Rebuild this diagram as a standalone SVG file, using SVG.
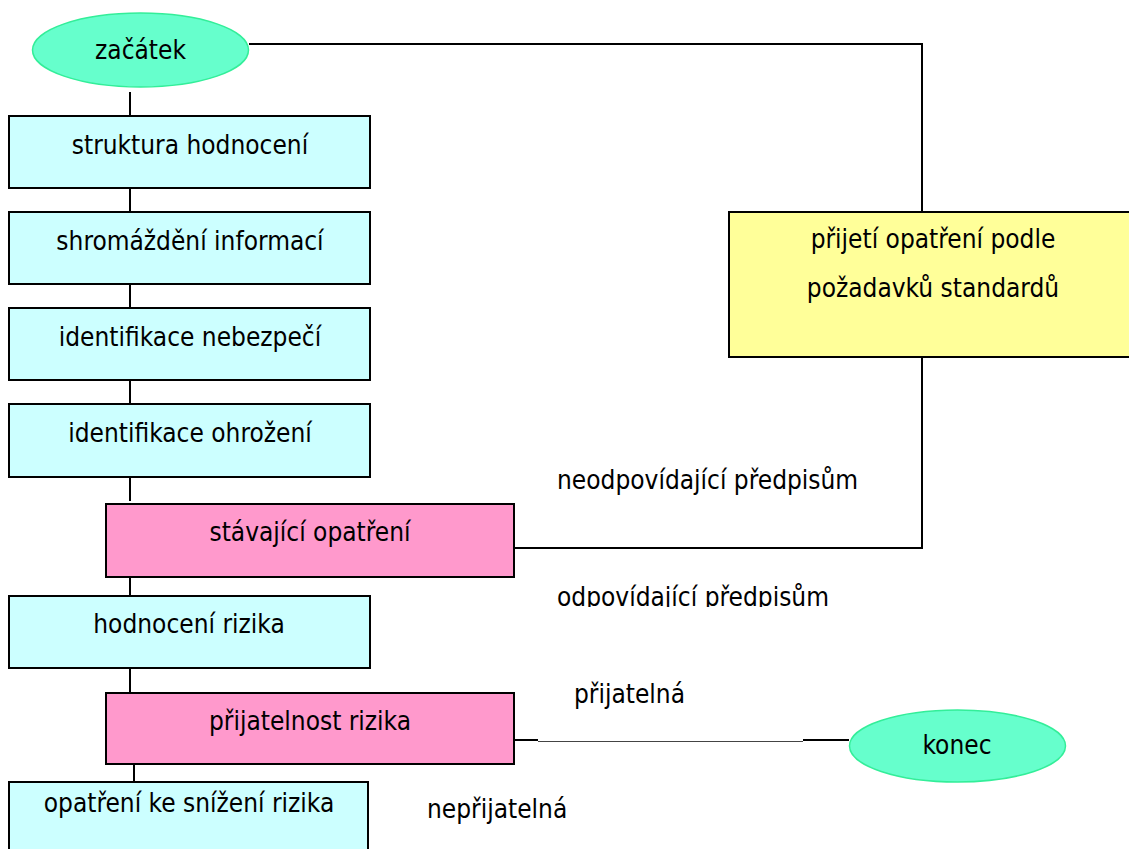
<svg xmlns="http://www.w3.org/2000/svg" width="1129" height="849" viewBox="0 0 1129 849">
<style>
text{font-family:"DejaVu Sans Condensed","DejaVu Sans",sans-serif;font-size:26px;fill:#000}
.c{text-anchor:middle}
.box{stroke:#000;stroke-width:2}
.cy{fill:#CCFFFF}
.pk{fill:#FF99CC}
.yl{fill:#FFFF99}
.el{fill:#66FFCC;stroke:#33EE99;stroke-width:1.5}
.ln{fill:none;stroke:#000;stroke-width:2}
.thin{fill:none;stroke:#444;stroke-width:1}
</style>
<defs>
<clipPath id="clipOdp"><rect x="540" y="570" width="320" height="37"/></clipPath>
</defs>
<g id="connectors">
<polyline class="ln" points="249,44 922,44 922,212"/>
<line class="ln" x1="130" y1="92" x2="130" y2="116"/>
<line class="ln" x1="130" y1="188" x2="130" y2="212"/>
<line class="ln" x1="130" y1="284" x2="130" y2="308"/>
<line class="ln" x1="130" y1="380" x2="130" y2="404"/>
<line class="ln" x1="130" y1="477" x2="130" y2="501"/>
<line class="ln" x1="130" y1="572" x2="130" y2="596"/>
<line class="ln" x1="130" y1="668" x2="130" y2="693"/>
<line class="ln" x1="134" y1="764" x2="134" y2="789"/>
<polyline class="ln" points="514,548 922,548 922,356"/>
<line class="ln" x1="514" y1="740" x2="538" y2="740"/>
<line class="thin" x1="538" y1="741.5" x2="803" y2="741.5"/>
<line class="ln" x1="803" y1="740" x2="849" y2="740"/>
</g>
<g id="n-zacatek"><ellipse class="el" cx="140.5" cy="50" rx="108" ry="37"/><text class="c" x="140.5" y="59">začátek</text></g>
<g id="n-struktura"><rect class="box cy" x="9" y="116" width="361" height="72"/><text class="c" x="190" y="154">struktura hodnocení</text></g>
<g id="n-shromazdeni"><rect class="box cy" x="9" y="212" width="361" height="72"/><text class="c" x="190" y="250">shromáždění informací</text></g>
<g id="n-nebezpeci"><rect class="box cy" x="9" y="308" width="361" height="72"/><text class="c" x="190" y="346">identifikace nebezpečí</text></g>
<g id="n-ohrozeni"><rect class="box cy" x="9" y="404" width="361" height="73"/><text class="c" x="190" y="442">identifikace ohrožení</text></g>
<g id="n-stavajici"><rect class="box pk" x="106" y="504" width="408" height="73"/><text class="c" x="310" y="541">stávající opatření</text></g>
<g id="n-hodnoceni"><rect class="box cy" x="9" y="596" width="361" height="72"/><text class="c" x="189" y="633">hodnocení rizika</text></g>
<g id="n-prijatelnost"><rect class="box pk" x="106" y="693" width="408" height="71"/><text class="c" x="310" y="730">přijatelnost rizika</text></g>
<g id="n-snizeni"><rect class="box cy" x="9" y="782" width="359" height="80"/><text class="c" x="189" y="812">opatření ke snížení rizika</text></g>
<g id="n-prijeti"><rect class="box yl" x="729" y="212" width="420" height="145"/><text class="c" x="933" y="248">přijetí opatření podle</text><text class="c" x="933" y="297">požadavků standardů</text></g>
<g id="n-konec"><ellipse class="el" cx="957.5" cy="746" rx="108" ry="36"/><text class="c" x="957" y="754">konec</text></g>
<g id="labels">
<text x="557" y="489">neodpovídající předpisům</text>
<text x="557" y="606" clip-path="url(#clipOdp)">odpovídající předpisům</text>
<text x="574" y="703">přijatelná</text>
<text x="427" y="818">nepřijatelná</text>
</g>
</svg>
